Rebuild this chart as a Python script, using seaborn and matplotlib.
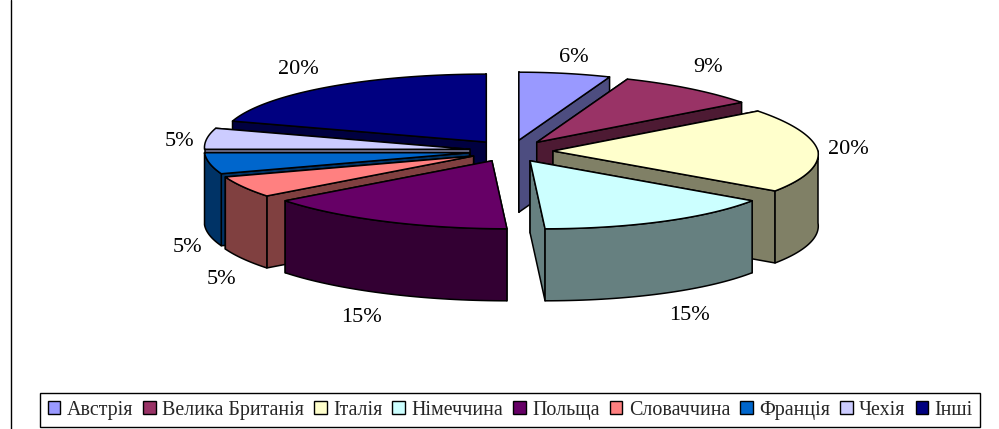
import numpy as np
import matplotlib
matplotlib.use("Agg")
import matplotlib.pyplot as plt
from matplotlib.patches import Patch
import seaborn as sns

# --- data ---
categories = ["Австрія", "Велика Британія", "Італія", "Німеччина", "Польща",
              "Словаччина", "Франція", "Чехія", "Інші"]
values = [6, 9, 20, 15, 15, 5, 5, 5, 20]
colors = ["#9999FF", "#993366", "#FFFFCC", "#CCFFFF", "#660066",
          "#FF8080", "#0066CC", "#CCCCFF", "#000080"]

# --- layout (pixels of the 999x429 canvas) ---
CX, CY = 511, 151
RX, RY = 265, 68
EX, EY = 42, 11
DEPTH = 72
DRAW_ORDER = [8, 0, 1, 7, 6, 5, 2, 4, 3]
LABEL_CENTERS = [(574, 57), (708, 68), (848, 149), (689, 315), (361, 318),
                 (222, 279), (187, 248), (180, 142), (298, 69)]

sns.set_theme(style="white")
plt.rcParams["font.family"] = ["Liberation Serif", "DejaVu Serif"]
LABEL_FS = 16
LEGEND_FS = 14.4

palette = sns.color_palette(colors)
fig = plt.figure(figsize=(9.99, 4.29), dpi=100)
ax = fig.add_axes([0, 0, 1, 1])
ax.set_xlim(0, 999)
ax.set_ylim(429, 0)
ax.axis("off")


def shift(a):
    """Small skew of the drawing's perspective, by angle in degrees."""
    r = np.radians(a)
    if a <= 90:
        return -10 * np.sin(2 * r)
    if a <= 270:
        return -12 * np.cos(r) - 3 * np.cos(r) ** 3
    return 3 * np.sin(2 * r)


def rim(a, apex, dz=0):
    r = np.radians(a)
    return (apex[0] + RX * np.sin(r) + shift(a), apex[1] - RY * np.cos(r) + dz)


def poly(pts, fc, z):
    xs, ys = zip(*pts)
    ax.fill(xs, ys, facecolor=fc, edgecolor="black", linewidth=1.1,
            joinstyle="round", zorder=z)


total = sum(values)
edges = np.cumsum([0] + values) / total * 360
z = 1
for i in DRAW_ORDER:
    a1, a2 = edges[i], edges[i + 1]
    mid_deg = (a1 + a2) / 2
    mid = np.radians(mid_deg)
    apex = (CX + EX * np.sin(mid), CY - EY * np.cos(mid))
    top = palette[i]
    side = tuple(c * 0.5 for c in top)
    low = (apex[0], apex[1] + DEPTH)
    # cut faces: the one turned away from the viewer goes first
    order = (a1, a2) if mid_deg < 180 else (a2, a1)
    for a in order:
        p = rim(a, apex)
        q = rim(a, apex, DEPTH)
        poly([apex, p, q, low], side, z)
        z += 1
    # outer wall, only on the front half
    w1, w2 = max(a1, 90), min(a2, 270)
    if w2 > w1:
        arc = np.linspace(w1, w2, 40)
        pts = [rim(a, apex) for a in arc] + [rim(a, apex, DEPTH) for a in arc[::-1]]
        poly(pts, side, z)
        z += 1
    # top face
    arc = np.linspace(a1, a2, 60)
    poly([apex] + [rim(a, apex) for a in arc], top, z)
    z += 1

for v, (x, y) in zip(values, LABEL_CENTERS):
    ax.text(x, y, f"{v}%", ha="center", va="center", fontsize=LABEL_FS, color="black", zorder=100)

# frame line on the left
ax.plot([11, 11], [0, 429], color="black", lw=1, zorder=100)

handles = [Patch(facecolor=palette[i], edgecolor="black", linewidth=1, label=c)
           for i, c in enumerate(categories)]
leg = ax.legend(handles=handles, ncol=len(categories), fontsize=LEGEND_FS, frameon=True,
                loc="upper left", bbox_to_anchor=(40 / 999, 1 - 393 / 429),
                borderaxespad=0, borderpad=0.38, handlelength=0.62, handleheight=0.62,
                handletextpad=0.33, columnspacing=0.5, fancybox=False,
                labelspacing=0)
leg.get_frame().set_edgecolor("black")
leg.get_frame().set_linewidth(1)
leg.get_frame().set_alpha(1)

fig.savefig("out.png", dpi=100)
